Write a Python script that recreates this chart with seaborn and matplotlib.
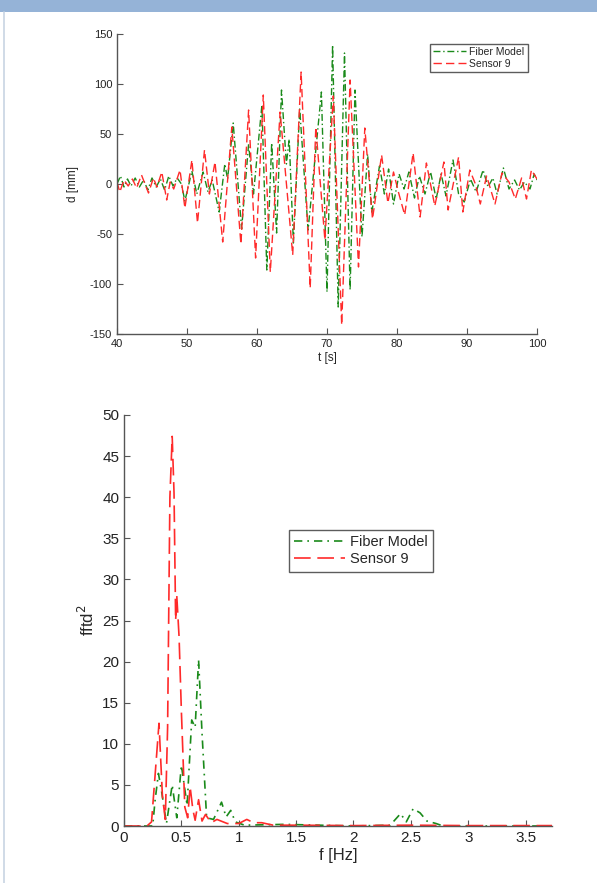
import numpy as np
import pandas as pd
import matplotlib
matplotlib.use("Agg")
import matplotlib.pyplot as plt
import seaborn as sns
from matplotlib.patches import Rectangle
from matplotlib.lines import Line2D

# time history d(t) [mm] (peaks / troughs)
sensor_t = [40.0, 40.4, 41.0, 41.6, 42.2, 42.8, 43.5, 44.0, 44.5, 45.2, 45.7, 46.4, 47.1,
            47.6, 48.1, 49.0, 49.7, 50.7, 51.5, 52.5, 53.2, 54.0, 55.1, 56.4, 57.7, 58.8,
            59.8, 60.9, 61.9, 63.3, 65.1, 66.3, 67.6, 68.4, 69.7, 70.9, 72.1, 73.3, 74.5,
            75.4, 76.5, 77.8, 78.7, 79.5, 80.2, 81.1, 82.3, 83.3, 84.2, 85.4, 86.7, 87.3,
            88.8, 89.4, 90.4, 91.2, 91.9, 92.8, 94.0, 95.0, 96.0, 96.9, 97.8, 98.5, 99.2, 100.0]
sensor_d = [2, -8, 4, -2, 5, -4, 9, 0, -9, 6, -3, 12, -16,
            2, -5, 14, -24, 24, -39, 34, -10, 22, -58, 57, -60, 74,
            -74, 89, -88, 72, -71, 112, -104, 57, -56, 88, -141, 104, -83,
            56, -35, 29, -19, 12, -8, -31, 31, -33, 21, -22, 22, -26,
            27, -28, 14, 0, -20, 8, -20, 11, 2, -15, 6, -15, 14, 5]

model_t = [40.0, 40.5, 41.0, 41.5, 42.0, 42.6, 43.2, 43.8, 44.4, 45.0, 45.6, 46.2, 46.8,
           47.4, 48.0, 48.6, 49.2, 49.7, 50.7, 51.4, 52.3, 53.0, 53.6, 54.6, 55.4, 55.8,
           56.6, 57.8, 58.8, 59.5, 60.7, 61.4, 62.1, 62.8, 63.5, 64.2, 64.6, 65.2, 66.1,
           67.3, 69.2, 70.0, 70.8, 71.6, 72.5, 73.3, 74.0, 75.0, 75.8, 76.4, 77.5, 78.2,
           78.8, 79.5, 80.3, 81.0, 81.7, 82.5, 83.2, 84.0, 84.8, 85.6, 86.3, 87.0, 88.0,
           88.8, 89.6, 90.5, 91.3, 92.3, 93.0, 93.7, 94.3, 95.2, 96.0, 96.8, 97.5, 98.2,
           99.0, 99.6, 100.0]
model_d = [0, 8, -3, 5, -2, 6, -3, 4, -6, 6, -3, 5, -6,
           8, -2, 6, 0, -17, 13, -10, 12, -8, 4, -28, 20, 5,
           61, -45, 40, -10, 79, -86, 41, -49, 94, 20, 45, -59, 75,
           -46, 92, -108, 139, -123, 131, -106, 94, -53, 30, -28, 18, -10,
           15, -20, 10, -5, 12, -14, 8, -10, 12, -15, 10, -12, 24,
           -10, -18, 5, -8, 14, -3, 6, -10, 16, -5, 4, -6, 2,
           -5, 10, 4]

# spectrum fftd^2 vs f [Hz]
sensor_f = [0.0, 0.20, 0.24, 0.27, 0.305, 0.335, 0.36, 0.38, 0.40, 0.42, 0.436, 0.45, 0.46,
            0.48, 0.50, 0.53, 0.555, 0.576, 0.60, 0.62, 0.65, 0.68, 0.71, 0.76, 0.81, 0.9,
            1.0, 1.07, 1.13, 1.2, 1.3, 1.5, 2.0, 2.5, 3.0, 3.5, 3.73]
sensor_v = [0.0, 0.0, 0.5, 6.0, 12.5, 3.6, 0.8, 12.0, 40.0, 47.4, 40.5, 25.0, 28.0,
            23.0, 14.0, 2.3, 1.0, 4.8, 2.0, 0.7, 3.2, 0.6, 1.4, 0.4, 0.8, 0.3,
            0.3, 0.8, 0.4, 0.4, 0.1, 0.1, 0.05, 0.1, 0.05, 0.05, 0.05]

model_f = [0.0, 0.25, 0.27, 0.30, 0.33, 0.37, 0.42, 0.46, 0.50, 0.55, 0.59, 0.62, 0.65,
           0.68, 0.72, 0.78, 0.85, 0.89, 0.93, 0.97, 1.05, 1.4, 2.0, 2.32, 2.41, 2.46,
           2.52, 2.58, 2.64, 2.72, 2.78, 3.0, 3.73]
model_v = [0.0, 0.0, 3.0, 6.4, 4.0, 0.3, 5.0, 1.0, 7.4, 2.5, 12.9, 12.0, 20.2,
           11.3, 1.0, 0.8, 2.9, 1.1, 1.9, 0.5, 0.1, 0.2, 0.0, 0.1, 1.5, 0.5,
           2.1, 1.6, 0.6, 0.3, 0.0, 0.0, 0.0]

labels = ["Fiber Model", "Sensor 9"]

sns.set_style("ticks")
plt.rcParams["font.family"] = ["Liberation Sans", "DejaVu Sans"]
plt.rcParams["axes.unicode_minus"] = False

red = "#ff2a2a"
green = "#1a8a1a"
axis_col = "#555555"

fig = plt.figure(figsize=(5.97, 8.83), dpi=100)
fig.patch.set_facecolor("white")

# window frame of the screenshot
fig.patches.append(Rectangle((0, 1 - 12 / 883), 1, 12 / 883, transform=fig.transFigure,
                             facecolor="#95b3d7", edgecolor="none", zorder=0))
fig.lines.append(Line2D([4 / 597, 4 / 597], [0, 1 - 12 / 883], transform=fig.transFigure,
                        color="#c8d4e3", lw=1.2))


def style_axes(ax, fs):
    sns.despine(ax=ax)
    for s in ["left", "bottom"]:
        ax.spines[s].set_color(axis_col)
        ax.spines[s].set_linewidth(1.0)
    ax.tick_params(direction="in", length=4, width=0.8, colors=axis_col,
                   labelcolor="#222222", labelsize=fs)


# --- top: time history ---
ax1 = fig.add_axes([117 / 597, 1 - 334 / 883, 420 / 597, 300 / 883])
top_model = pd.DataFrame({"t": model_t, "d": model_d})
top_sensor = pd.DataFrame({"t": sensor_t, "d": sensor_d})
sns.lineplot(data=top_model, x="t", y="d", ax=ax1, color=green, lw=1.0, sort=False,
             estimator=None, label=labels[0], dashes=False)
sns.lineplot(data=top_sensor, x="t", y="d", ax=ax1, color=red, lw=1.0, sort=False,
             estimator=None, label=labels[1], dashes=False)
ax1.lines[0].set_dashes([5, 2, 1, 2])
ax1.lines[1].set_dashes([6, 3])
ax1.set_xlim(40, 100)
ax1.set_ylim(-150, 150)
ax1.set_xticks(np.arange(40, 101, 10))
ax1.set_yticks(np.arange(-150, 151, 50))
ax1.set_xlabel("t [s]", fontsize=8.5, labelpad=2)
ax1.set_ylabel("d [mm]", fontsize=8.5, labelpad=8)
style_axes(ax1, 8)
leg1 = ax1.legend(loc="upper right", bbox_to_anchor=(0.99, 0.985), fontsize=7.5,
                  frameon=True, fancybox=False, edgecolor="#333333", handlelength=3.2,
                  borderpad=0.3, labelspacing=0.2, handletextpad=0.3)
leg1.get_frame().set_linewidth(1.0)

# --- bottom: spectrum ---
ax2 = fig.add_axes([124 / 597, 1 - 826 / 883, 428 / 597, 411 / 883])
bot_model = pd.DataFrame({"f": model_f, "v": model_v})
bot_sensor = pd.DataFrame({"f": sensor_f, "v": sensor_v})
sns.lineplot(data=bot_model, x="f", y="v", ax=ax2, color=green, lw=1.2, sort=False,
             estimator=None, label=labels[0], dashes=False, clip_on=False)
sns.lineplot(data=bot_sensor, x="f", y="v", ax=ax2, color=red, lw=1.2, sort=False,
             estimator=None, label=labels[1], dashes=False, clip_on=False)
ax2.lines[0].set_dashes([5, 3, 1, 3])
ax2.lines[1].set_dashes([10, 4])
ax2.set_xlim(0, 3.73)
ax2.set_ylim(0, 50)
ax2.set_xticks(np.arange(0, 3.6, 0.5))
ax2.set_xticklabels(["0", "0.5", "1", "1.5", "2", "2.5", "3", "3.5"])
ax2.set_yticks(np.arange(0, 51, 5))
ax2.set_xlabel("f [Hz]", fontsize=12, labelpad=2)
ax2.set_ylabel("fftd$^2$", fontsize=12, labelpad=4)
style_axes(ax2, 11)
leg2 = ax2.legend(loc="upper left", bbox_to_anchor=(0.369, 0.737), fontsize=10.5,
                  frameon=True, fancybox=False, edgecolor="#333333", handlelength=3.5,
                  borderpad=0.35, labelspacing=0.2, handletextpad=0.3)
leg2.get_frame().set_linewidth(1.0)

fig.savefig("out.png", dpi=100)
